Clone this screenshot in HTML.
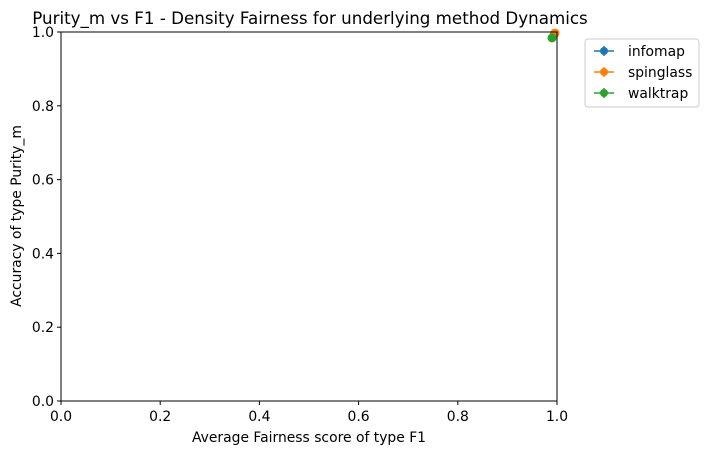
<!DOCTYPE html>
<html><head><meta charset="utf-8"><style>
body{margin:0;background:#fff;font-family:"Liberation Sans","DejaVu Sans",sans-serif}
svg text{font-family:"DejaVu Sans","Liberation Sans",sans-serif}
</style></head><body>
<svg id="c" width="708" height="455" xmlns="http://www.w3.org/2000/svg"></svg>
<script>
const series=["infomap","spinglass","walktrap"];
const colors=["#1f77b4","#ff7f0e","#2ca02c"];
const xVals=[0.995,0.996,0.990];
const yVals=[0.995,0.997,0.984];
const ticks=[0,0.2,0.4,0.6,0.8,1.0];
const tickLabels=["0.0","0.2","0.4","0.6","0.8","1.0"];
const L=61,R=557,T=32,B=401;
const sx=v=>L+v*(R-L), sy=v=>B-v*(B-T);
const svg=document.getElementById('c');
const NS="http://www.w3.org/2000/svg";
function mk(tag,attrs,parent){const e=document.createElementNS(NS,tag);for(const k in attrs)e.setAttribute(k,attrs[k]);(parent||svg).appendChild(e);return e;}
let t=mk('text',{x:310,y:24,'font-size':16.7,'text-anchor':'middle'});


t.textContent="Purity_m vs F1 - Density Fairness for underlying method Dynamics";
ticks.forEach((v,i)=>{
 let l=mk('line',{x1:sx(v),x2:sx(v),y1:B,y2:B+4,stroke:'#000'});
 
 
 let tx=mk('text',{x:sx(v),y:B+20,'font-size':13.9,'text-anchor':'middle'});
 
 
 tx.textContent=tickLabels[i];
 let l2=mk('line',{x1:L-4,x2:L,y1:sy(v),y2:sy(v),stroke:'#000'});
 
 
 let ty=mk('text',{x:L-7,y:sy(v)+5,'font-size':13.9,'text-anchor':'end'});
 
 
 ty.textContent=tickLabels[i];
});
let xt=mk('text',{x:309,y:442,'font-size':13.9,'text-anchor':'middle'});


xt.textContent="Average Fairness score of type F1";
let yt=mk('text',{x:21,y:216,'font-size':13.9,'text-anchor':'middle',transform:'rotate(-90 21 216)'});


yt.textContent="Accuracy of type Purity_m";
series.forEach((s,i)=>{
 let p=mk('circle',{cx:sx(xVals[i]),cy:sy(yVals[i]),r:4.5,fill:colors[i]});
 
 
});
let fr=mk('rect',{x:L,y:T,width:R-L,height:B-T,fill:'none',stroke:'#000','stroke-width':1});


let lg=mk('g',{});


mk('rect',{x:585,y:39,width:114,height:68,rx:3,fill:'#fff',stroke:'#ccc'},lg);
series.forEach((s,i)=>{
 const y=51+i*21;
 let g=mk('g',{},lg);
 
 
 mk('line',{x1:594,x2:614,y1:y,y2:y,stroke:colors[i],'stroke-width':1.5},g);
 mk('line',{x1:604,x2:604,y1:y-5,y2:y+5,stroke:colors[i],'stroke-width':1.5},g);
 mk('circle',{cx:604,cy:y,r:4,fill:colors[i]},g);
 let tx=mk('text',{x:628,y:y+5,'font-size':13.9},g);
 tx.textContent=s;
});
</script>
</body></html>
